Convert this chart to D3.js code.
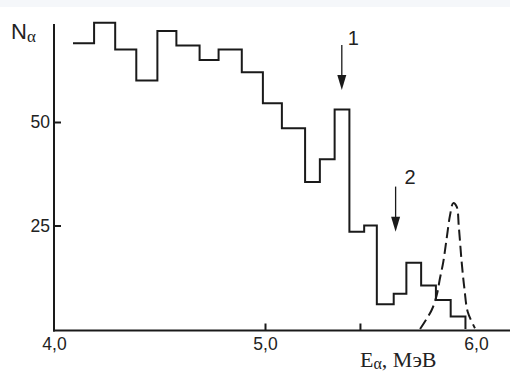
<!DOCTYPE html>
<html lang="ru">
<head>
    <meta charset="UTF-8">
    <title>Alpha spectrum</title>
    <script src="https://d3js.org/d3.v7.min.js"></script>
    <style>
        body { margin: 0; background: #fff; }
        svg { display: block; }
        .tick text { font-family: "Liberation Sans", Arial, sans-serif; font-size: 17.5px; fill: #222; }
    </style>
</head>
<body>
    <div id="chart"></div>
    <script>
        // histogram bin edges (MeV) and counts
        const binEdges = [4.09, 4.19, 4.29, 4.39, 4.49, 4.58, 4.69, 4.78, 4.89, 4.99, 5.08,
                          5.19, 5.26, 5.33, 5.40, 5.47, 5.53, 5.61, 5.67, 5.74, 5.81, 5.88, 5.95];
        const binCounts = [69, 74, 67.5, 60, 72, 68.5, 65, 67.5, 62, 54.5, 48.5,
                           35.5, 41, 53, 23.5, 25, 6, 8.5, 16, 10.5, 7, 3];

        // dashed reference peak
        const peakE = [5.735, 5.790, 5.814, 5.829, 5.845, 5.861, 5.877, 5.892, 5.908, 5.919, 5.932, 5.945, 5.961, 5.995];
        const peakN = [0, 4.6, 8.2, 12.2, 16.2, 21.9, 27.5, 30.4, 29.6, 24.4, 16.2, 9.8, 4.1, 0.2];

        // arrows: energy, top of shaft, tip
        const arrowLabels = ["1", "2"];
        const arrowE = [5.364, 5.619];
        const arrowTop = [68.6, 34.4];
        const arrowTip = [57.7, 23.5];

        const xLabelTicks = [4.0, 5.0, 6.0];
        const xMarkTicks = [5.0, 5.45];
        const yTicks = [25, 50];

        const w = 510;
        const h = 379;

        const xScale = d3.scaleLinear().domain([4, 6]).range([54, 476]);
        const yScale = d3.scaleLinear().domain([0, 50]).range([329, 122]);
        const fmt = d => d.toFixed(1).replace(".", ",");

        const svg = d3.select("#chart")
            .append("svg")
            .attr("width", w)
            .attr("height", h);

        svg.append("rect")
            .attr("width", w)
            .attr("height", 7)
            .attr("fill", "#f5f7fa");

        // axes
        const yAxis = d3.axisLeft(yScale).tickValues(yTicks).tickSize(-7).tickPadding(4);
        svg.append("g")
            .attr("transform", "translate(54,0)")
            .call(yAxis)
            .call(g => g.select(".domain").remove())
            .call(g => g.selectAll(".tick line").attr("stroke", "#1a1a1a").attr("stroke-width", 2));

        svg.append("g")
            .attr("transform", "translate(0,330.5)")
            .call(d3.axisBottom(xScale).tickValues(xLabelTicks).tickSize(0).tickPadding(7.5).tickFormat(fmt))
            .call(g => g.select(".domain").remove());

        svg.append("g")
            .attr("transform", "translate(0,330.5)")
            .call(d3.axisBottom(xScale).tickValues(xMarkTicks).tickSize(-7).tickFormat(""))
            .call(g => g.select(".domain").remove())
            .call(g => g.selectAll(".tick line").attr("stroke", "#1a1a1a").attr("stroke-width", 2));

        svg.append("line")
            .attr("x1", 54).attr("x2", 54)
            .attr("y1", 24).attr("y2", 331.5)
            .attr("stroke", "#1a1a1a").attr("stroke-width", 2);
        svg.append("line")
            .attr("x1", 53).attr("x2", w)
            .attr("y1", 330.5).attr("y2", 330.5)
            .attr("stroke", "#1a1a1a").attr("stroke-width", 2);

        // histogram
        const pts = binCounts.map((c, i) => [binEdges[i], c]);
        pts.push([binEdges[binEdges.length - 1], binCounts[binCounts.length - 1]]);
        pts.push([binEdges[binEdges.length - 1], 0]);
        const step = d3.line()
            .x(d => xScale(d[0]))
            .y(d => yScale(d[1]))
            .curve(d3.curveStepAfter);
        svg.append("path")
            .attr("d", step(pts))
            .attr("fill", "none")
            .attr("stroke", "#1a1a1a")
            .attr("stroke-width", 2)
            .attr("stroke-linejoin", "miter");

        // dashed peak
        const peak = d3.line()
            .x((d, i) => xScale(peakE[i]))
            .y((d, i) => yScale(peakN[i]))
            .curve(d3.curveCatmullRom);
        svg.append("path")
            .attr("d", peak(peakE))
            .attr("fill", "none")
            .attr("stroke", "#1a1a1a")
            .attr("stroke-width", 2)
            .attr("stroke-dasharray", "11,5");

        // arrows
        arrowE.forEach((e, i) => {
            const x = xScale(e);
            const y0 = yScale(arrowTop[i]);
            const y1 = yScale(arrowTip[i]);
            svg.append("line")
                .attr("x1", x).attr("x2", x)
                .attr("y1", y0).attr("y2", y1 - 12)
                .attr("stroke", "#1a1a1a").attr("stroke-width", 1.3);
            svg.append("path")
                .attr("d", `M${x - 4.5},${y1 - 15} L${x + 4.5},${y1 - 15} L${x},${y1} Z`)
                .attr("fill", "#1a1a1a");
            svg.append("text")
                .attr("x", x + 6 + i * 3)
                .attr("y", y0 - 0 - i * 3)
                .attr("font-family", "Liberation Sans, Arial, sans-serif")
                .attr("font-size", 20)
                .attr("fill", "#222")
                .text(arrowLabels[i]);
        });

        // axis titles
        const yTitle = svg.append("text")
            .attr("x", 11)
            .attr("y", 39)
            .attr("fill", "#222");
        yTitle.append("tspan")
            .attr("font-family", "Liberation Sans, Arial, sans-serif")
            .attr("font-size", 22)
            .text("N");
        yTitle.append("tspan")
            .attr("font-family", "Liberation Serif, Times New Roman, serif")
            .attr("font-size", 17)
            .attr("dy", 3)
            .text("α");

        const xTitle = svg.append("text")
            .attr("x", 360)
            .attr("y", 366.5)
            .attr("font-family", "Liberation Serif, Times New Roman, serif")
            .attr("font-size", 22)
            .attr("fill", "#222");
        xTitle.append("tspan").text("E");
        xTitle.append("tspan").attr("font-size", 16).attr("dy", 2).text("α");
        xTitle.append("tspan").attr("dy", -2).text(", МэВ");
    </script>
</body>
</html>
